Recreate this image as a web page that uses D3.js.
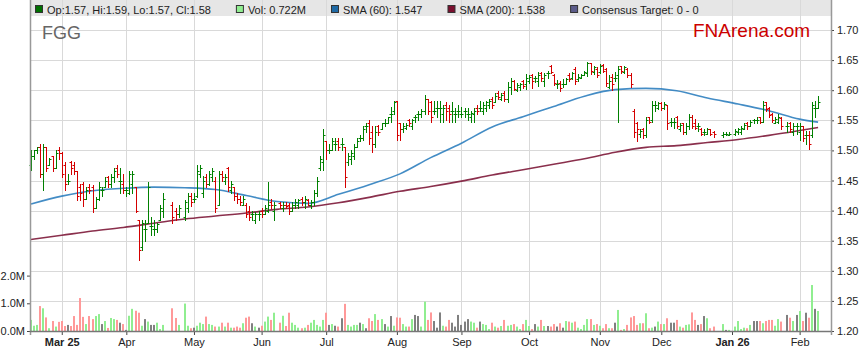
<!DOCTYPE html>
<html>
<head>
<meta charset="utf-8">
<script src="https://cdn.jsdelivr.net/npm/d3@7"></script>
<style>
  body { margin: 0; background: #fff; }
  svg { display: block; font-family: Arial, "Liberation Sans", sans-serif; }
</style>
</head>
<body>
<div id="chart"></div>
<script>
// ---- data ----
const ticker = "FGG";
const firstDay = "2025-02-17";
const lastDay = "2026-02-10";

// [open, high, low, close] per weekday, null = market holiday
const ohlc = [
  [1.475,1.50,1.468,1.49],[1.49,1.50,1.485,1.50],[1.50,1.505,1.495,1.505],[1.505,1.51,1.455,1.46],[1.46,1.51,1.435,1.505],
  [1.505,1.505,1.465,1.47],[1.475,1.487,1.475,1.485],[1.49,1.49,1.465,1.47],[1.47,1.50,1.47,1.495],[1.50,1.505,1.485,1.495],
  // 10
  [1.495,1.497,1.455,1.46],[1.475,1.48,1.435,1.445],[1.45,1.46,1.445,1.45],[1.48,1.482,1.46,1.47],[1.475,1.48,1.46,1.465],
  [1.465,1.465,1.418,1.425],[1.44,1.445,1.418,1.43],[1.445,1.447,1.408,1.42],[1.42,1.44,1.42,1.435],[1.44,1.445,1.43,1.435],
  // 20
  [1.44,1.443,1.398,1.405],[1.405,1.422,1.405,1.42],[1.42,1.448,1.418,1.44],[1.435,1.44,1.425,1.435],[1.44,1.455,1.44,1.45],
  [1.455,1.457,1.44,1.445],[1.445,1.46,1.44,1.455],[1.455,1.47,1.447,1.465],[1.47,1.475,1.455,1.46],[1.45,1.47,1.43,1.45],
  // 30
  [1.445,1.46,1.43,1.435],[1.435,1.44,1.425,1.435],[1.43,1.465,1.427,1.46],[1.445,1.465,1.43,1.46],[1.44,1.44,1.398,1.40],
  [1.385,1.385,1.318,1.335],[1.34,1.385,1.335,1.38],[1.37,1.385,1.35,1.37],[1.38,1.447,1.38,1.44],[1.375,1.39,1.36,1.375],
  // 40
  [1.37,1.385,1.36,1.37],[1.37,1.38,1.365,1.378],[1.385,1.41,1.385,1.405],[1.40,1.43,1.39,1.42],null,
  null,[1.41,1.415,1.38,1.39],[1.40,1.405,1.385,1.395],[1.395,1.41,1.39,1.405],null,
  // 50
  [1.39,1.418,1.385,1.415],[1.405,1.43,1.397,1.425],[1.425,1.43,1.407,1.415],[1.42,1.43,1.415,1.42],[1.425,1.475,1.423,1.465],
  [1.46,1.475,1.455,1.47],[1.43,1.457,1.423,1.45],[1.455,1.46,1.44,1.445],[1.445,1.465,1.443,1.46],[1.455,1.47,1.45,1.465],
  // 60
  [1.45,1.455,1.398,1.405],[1.41,1.465,1.41,1.46],[1.46,1.465,1.45,1.455],[1.45,1.46,1.445,1.455],[1.47,1.472,1.432,1.44],
  [1.435,1.45,1.43,1.445],[1.44,1.44,1.418,1.425],[1.425,1.43,1.413,1.42],[1.42,1.425,1.41,1.415],[1.41,1.425,1.41,1.42],
  // 70
  [1.41,1.413,1.39,1.395],[1.40,1.407,1.385,1.39],[1.395,1.40,1.385,1.395],[1.385,1.398,1.38,1.395],[1.395,1.40,1.385,1.395],
  [1.40,1.405,1.39,1.395],[1.395,1.41,1.395,1.405],[1.40,1.448,1.398,1.41],[1.415,1.42,1.405,1.41],[1.40,1.415,1.385,1.41],
  // 80
  null,[1.412,1.415,1.405,1.41],[1.405,1.415,1.40,1.41],[1.41,1.415,1.405,1.408],[1.41,1.412,1.395,1.40],
  [1.40,1.415,1.40,1.41],[1.41,1.42,1.405,1.415],[1.41,1.42,1.405,1.418],[1.42,1.422,1.41,1.415],[1.415,1.425,1.405,1.42],
  // 90
  [1.418,1.42,1.41,1.41],[1.41,1.418,1.405,1.415],[1.415,1.435,1.41,1.43],[1.43,1.455,1.425,1.45],[1.47,1.49,1.468,1.485],
  [1.48,1.535,1.468,1.525],[1.515,1.515,1.485,1.50],[1.50,1.51,1.495,1.50],[1.50,1.52,1.50,1.515],[1.51,1.52,1.50,1.51],
  // 100
  [1.515,1.52,1.50,1.505],[1.51,1.52,1.50,1.51],[1.505,1.505,1.44,1.455],[1.48,1.495,1.475,1.49],[1.485,1.50,1.478,1.495],
  [1.49,1.51,1.485,1.505],[1.505,1.52,1.505,1.515],[1.52,1.525,1.515,1.52],[1.52,1.54,1.518,1.535],[1.54,1.545,1.53,1.54],
  // 110
  [1.545,1.55,1.51,1.52],[1.53,1.54,1.498,1.51],[1.51,1.54,1.505,1.53],[1.54,1.542,1.525,1.53],[1.535,1.545,1.535,1.545],
  [1.545,1.552,1.54,1.545],[1.545,1.555,1.545,1.555],[1.56,1.572,1.548,1.56],[1.565,1.582,1.56,1.58],[1.582,1.582,1.518,1.525],
  // 120
  [1.545,1.545,1.518,1.535],[1.535,1.545,1.53,1.54],[1.538,1.545,1.535,1.542],[1.55,1.552,1.54,1.545],[1.54,1.552,1.535,1.55],
  [1.555,1.558,1.548,1.555],[1.56,1.565,1.55,1.56],[1.56,1.568,1.555,1.565],[1.565,1.592,1.56,1.585],[1.585,1.585,1.56,1.565],
  // 130
  [1.58,1.582,1.548,1.555],[1.565,1.582,1.56,1.565],[1.57,1.582,1.555,1.57],[1.57,1.582,1.548,1.57],[1.56,1.575,1.548,1.57],
  [1.575,1.58,1.55,1.565],[1.57,1.575,1.548,1.56],[1.565,1.58,1.548,1.565],[1.56,1.57,1.548,1.56],[1.565,1.575,1.555,1.565],
  // 140
  [1.56,1.572,1.555,1.56],[1.565,1.57,1.555,1.565],[1.56,1.57,1.55,1.56],[1.555,1.565,1.548,1.562],[1.56,1.57,1.548,1.565],
  [1.57,1.575,1.56,1.565],[1.57,1.582,1.565,1.57],[1.565,1.58,1.56,1.575],[1.57,1.582,1.565,1.58],[1.575,1.585,1.57,1.582],
  // 150
  [1.585,1.588,1.57,1.575],[1.58,1.595,1.58,1.59],[1.595,1.598,1.585,1.588],[1.585,1.595,1.583,1.592],[1.595,1.598,1.582,1.585],
  [1.585,1.613,1.58,1.605],[1.605,1.62,1.593,1.615],[1.615,1.617,1.60,1.602],[1.60,1.612,1.598,1.608],[1.605,1.612,1.60,1.61],
  // 160
  [1.615,1.617,1.603,1.607],[1.61,1.627,1.602,1.62],[1.615,1.625,1.612,1.622],[1.625,1.627,1.603,1.615],[1.62,1.623,1.613,1.62],
  [1.615,1.63,1.607,1.625],[1.628,1.63,1.615,1.62],[1.615,1.628,1.607,1.625],[1.628,1.632,1.62,1.628],[1.64,1.642,1.628,1.63],
  // 170
  [1.625,1.627,1.608,1.612],[1.61,1.617,1.603,1.61],[1.612,1.615,1.598,1.603],[1.61,1.618,1.605,1.61],[1.61,1.62,1.61,1.618],
  [1.625,1.628,1.615,1.618],[1.62,1.63,1.618,1.628],[1.635,1.638,1.61,1.615],[1.618,1.627,1.615,1.622],[1.62,1.627,1.62,1.625],
  // 180
  [1.625,1.632,1.625,1.63],[1.628,1.647,1.623,1.645],[1.645,1.645,1.627,1.632],[1.63,1.64,1.627,1.638],[1.635,1.638,1.622,1.625],
  [1.63,1.643,1.628,1.64],[1.642,1.643,1.63,1.632],[1.635,1.637,1.607,1.612],[1.605,1.625,1.603,1.615],[1.622,1.627,1.60,1.61],
  // 190
  [1.62,1.63,1.615,1.62],[1.625,1.64,1.548,1.635],[1.64,1.64,1.628,1.632],[1.63,1.64,1.628,1.638],[1.635,1.637,1.622,1.625],
  [1.625,1.628,1.605,1.61],[1.565,1.568,1.522,1.53],[1.545,1.548,1.515,1.535],[1.527,1.535,1.522,1.533],[1.535,1.537,1.52,1.525],
  // 200
  [1.525,1.555,1.522,1.55],[1.555,1.555,1.545,1.548],[1.55,1.582,1.548,1.575],[1.575,1.582,1.565,1.575],[1.57,1.58,1.568,1.578],
  [1.578,1.58,1.567,1.57],[1.57,1.58,1.568,1.577],[1.575,1.575,1.535,1.545],[1.548,1.553,1.54,1.548],[1.548,1.553,1.537,1.548],
  // 210
  [1.555,1.557,1.537,1.54],[1.535,1.545,1.532,1.542],[1.545,1.545,1.527,1.53],[1.53,1.545,1.528,1.54],[1.54,1.56,1.535,1.555],
  [1.555,1.558,1.537,1.54],[1.545,1.552,1.535,1.538],[1.54,1.545,1.532,1.54],[1.535,1.537,1.525,1.528],[1.53,1.535,1.525,1.53],
  // 220
  [1.528,1.537,1.527,1.535],[1.535,1.535,1.525,1.527],[1.53,1.532,1.523,1.527],null,null,
  [1.525,1.53,1.523,1.527],[1.527,1.53,1.525,1.527],[1.525,1.53,1.525,1.528],null,[1.528,1.535,1.525,1.532],
  // 230
  [1.53,1.537,1.528,1.535],[1.53,1.54,1.527,1.538],[1.535,1.545,1.535,1.542],[1.545,1.548,1.535,1.54],[1.54,1.55,1.54,1.548],
  [1.55,1.552,1.545,1.55],[1.55,1.555,1.545,1.55],[1.555,1.555,1.545,1.548],[1.548,1.582,1.548,1.575],[1.58,1.58,1.565,1.568],
  // 240
  [1.57,1.572,1.555,1.558],[1.56,1.562,1.548,1.55],[1.545,1.555,1.545,1.552],[1.548,1.56,1.545,1.555],[1.553,1.555,1.535,1.54],
  null,[1.54,1.548,1.53,1.54],[1.545,1.547,1.53,1.535],[1.53,1.545,1.525,1.54],[1.54,1.545,1.528,1.54],
  // 250
  [1.53,1.545,1.518,1.54],[1.54,1.54,1.515,1.52],[1.525,1.532,1.51,1.525],[1.525,1.532,1.502,1.51],[1.525,1.58,1.522,1.575],
  [1.57,1.582,1.555,1.57],[1.57,1.59,1.57,1.58]
];

// volume in millions, same weekday order
const volume = [
  .40,.19,.22,.90,.82,.49,.10,.36,.16,.33,
  .36,.18,.22,.18,.54,.22,1.19,.51,.25,.54,
  .43,.54,.61,.25,.36,.11,.47,.43,.40,.30,
  .25,.04,.55,.80,.73,.66,.19,.43,.34,.22,
  .22,.30,.07,.22,null,null,.82,.47,.22,null,
  .99,.19,.10,.12,.19,.30,.25,.52,.25,.22,
  .16,.16,.30,.16,.30,.12,.12,.16,.12,.28,
  .48,.52,.28,.16,.12,.19,.34,.52,.40,.66,
  null,.30,.55,.18,.66,.30,.22,.12,.10,.12,
  .22,.30,.40,.22,.16,.40,.66,.22,.25,.19,
  .16,.46,.98,.22,.16,.22,.22,.30,.25,.10,
  .46,.36,.61,.40,.43,.25,.16,.54,.19,.49,
  .48,.25,.16,.16,.43,.58,.54,.16,1.06,.40,
  .67,.36,.12,.67,.19,.16,.40,.30,.16,.58,
  .22,.34,.43,.34,.30,.12,.34,.25,.22,.07,
  .30,.16,.12,.18,.40,.19,.22,.25,.16,.07,
  .25,.40,.18,.07,.25,.16,.40,.18,.18,.16,
  .25,.16,.28,.12,.36,.34,.30,.34,.12,.07,
  .22,.43,.43,.22,.25,.19,.10,.25,.10,.10,
  .30,.76,.04,.07,.22,.49,.54,.22,.28,.28,
  .64,.10,.12,.16,.34,.25,.25,.46,.30,.30,
  .40,.16,.12,.22,.24,.67,.40,.22,.25,.54,
  .46,.10,.16,null,null,.25,.04,.04,null,.16,
  .36,.07,.12,.10,.22,.36,.36,.36,.28,.36,
  .40,.40,.19,.43,.34,null,.58,.48,.36,.58,
  .72,.36,.66,.48,1.66,.80,.722
];

// moving averages read at these bar positions
const smaAt  = [0,10,20,30,40,50,60,70,80,90,100,110,120,130,140,150,160,170,180,190,200,210,220,230,240,250,256];
const sma60  = [1.411,1.424,1.433,1.437,1.439,1.438,1.435,1.425,1.415,1.412,1.427,1.443,1.461,1.488,1.512,1.539,1.556,1.573,1.590,1.601,1.603,1.599,1.587,1.577,1.566,1.552,1.547];
const sma200 = [1.352,1.359,1.366,1.372,1.379,1.386,1.391,1.396,1.402,1.406,1.413,1.422,1.432,1.440,1.449,1.459,1.468,1.477,1.486,1.497,1.505,1.508,1.513,1.518,1.525,1.533,1.538];

const priceTicks = [1.20,1.25,1.30,1.35,1.40,1.45,1.50,1.55,1.60,1.65,1.70];
const volTicks = [0,1,2];
const monthLabels = ["Mar 25","Apr","May","Jun","Jul","Aug","Sep","Oct","Nov","Dec","Jan 26","Feb"];

// ---- setup ----
const W = 859, H = 363;
const plotL = 30, plotR = 831, plotT = 30, plotB = 331;

const svg = d3.select("#chart").append("svg")
  .attr("width", W).attr("height", H);

const parse = d3.utcParse("%Y-%m-%d");
const days = d3.utcDay.range(parse(firstDay), d3.utcDay.offset(parse(lastDay), 1))
  .filter(d => d.getUTCDay() % 6 !== 0);

const x = d3.scaleLinear().domain([-0.33, 260.2]).range([plotL, plotR]);
const y = d3.scaleLinear().domain([1.20, 1.70]).range([plotB, plotT]);
const yv = d3.scaleLinear().domain([0, 2]).range([plotB, 275.6]);

// first weekday of every month
const monthIdx = d3.range(1, days.length).filter(i => days[i].getUTCMonth() !== days[i - 1].getUTCMonth());

const crisp = v => Math.round(v) + 0.5;

// legend band
svg.append("rect")
  .attr("x", plotL).attr("y", 0)
  .attr("width", plotR - plotL).attr("height", 16)
  .attr("fill", "#e6e6e6");

// gridlines
svg.append("g").selectAll("line")
  .data(priceTicks).enter().append("line")
  .attr("x1", plotL).attr("x2", plotR)
  .attr("y1", d => crisp(y(d))).attr("y2", d => crisp(y(d)))
  .attr("stroke", "#d9d9d9");

svg.append("g").selectAll("line")
  .data(monthIdx).enter().append("line")
  .attr("x1", d => crisp(x(d))).attr("x2", d => crisp(x(d)))
  .attr("y1", 0).attr("y2", plotB)
  .attr("stroke", "#d9d9d9");

// ticker + watermark
svg.append("text")
  .attr("x", 42).attr("y", 39)
  .attr("font-size", 18).attr("fill", "#666")
  .text(ticker);

svg.append("text")
  .attr("x", 693).attr("y", 37)
  .attr("font-size", 19).attr("fill", "#cc0000")
  .text("FNArena.com");

// volume bars
const bars = ohlc.map((d, i) => d ? { i, o: d[0], h: d[1], l: d[2], c: d[3], v: volume[i] } : null).filter(d => d);

const volColor = d => d.c > d.o ? "#90ee90" : d.c < d.o ? "#ff9999" : "#808080";

svg.append("g").selectAll("rect")
  .data(bars).enter().append("rect")
  .attr("x", d => Math.round(x(d.i)) - 1)
  .attr("y", d => yv(d.v))
  .attr("width", 2)
  .attr("height", d => plotB - yv(d.v))
  .attr("fill", volColor);

// moving averages
const smaLine = vals => d3.line()
  .x((d, k) => x(smaAt[k]))
  .y(d => y(d))
  .curve(d3.curveMonotoneX)(vals);

svg.append("path")
  .attr("d", smaLine(sma200))
  .attr("fill", "none").attr("stroke", "#7d1838").attr("stroke-width", 1.6).attr("stroke-opacity", 0.9);

svg.append("path")
  .attr("d", smaLine(sma60))
  .attr("fill", "none").attr("stroke", "#2f7fbf").attr("stroke-width", 1.6).attr("stroke-opacity", 0.9);

// OHLC bars
svg.append("g").selectAll("path")
  .data(bars).enter().append("path")
  .attr("d", d => {
    const xi = crisp(x(d.i));
    const yo = crisp(y(d.o)), yc = crisp(y(d.c));
    return `M${xi},${Math.round(y(d.h))}V${Math.round(y(d.l)) + 1}` +
           `M${xi - 2},${yo}H${xi}M${xi},${yc}H${xi + 2}`;
  })
  .attr("fill", "none")
  .attr("stroke", d => d.c >= d.o ? "#008000" : "#d40000")
  .attr("stroke-width", 1);

// axes
const axisFont = g => g.selectAll("text").attr("font-size", 11).attr("fill", "#222")
  .attr("font-family", 'Arial, "Liberation Sans", sans-serif');

const gRight = svg.append("g").attr("transform", `translate(${plotR},0)`)
  .call(d3.axisRight(y).tickValues(priceTicks).tickFormat(d3.format(".2f")).tickSize(3).tickPadding(3))
  .call(axisFont);
gRight.select(".domain").remove();
gRight.selectAll("line").attr("stroke", "#444");

const gLeft = svg.append("g").attr("transform", `translate(${plotL},0)`)
  .call(d3.axisLeft(yv).tickValues(volTicks).tickFormat(d => d.toFixed(1) + "M").tickSize(3).tickPadding(2))
  .call(axisFont);
gLeft.select(".domain").remove();
gLeft.selectAll("line").attr("stroke", "#444");

const gBottom = svg.append("g").attr("transform", `translate(0,${plotB})`)
  .call(d3.axisBottom(x).tickValues(monthIdx).tickFormat((d, k) => monthLabels[k]).tickSize(4).tickPadding(3))
  .call(axisFont);
gBottom.select(".domain").remove();
gBottom.selectAll("line").attr("stroke", "#444");
gBottom.selectAll("text").attr("font-weight", (d, k) => /\d/.test(monthLabels[k]) ? "bold" : null);

// frame lines
svg.append("line").attr("x1", plotL + 0.5).attr("x2", plotL + 0.5).attr("y1", 0).attr("y2", plotB + 4)
  .attr("stroke", "#999").attr("stroke-width", 1.5);
svg.append("line").attr("x1", plotR + 0.5).attr("x2", plotR + 0.5).attr("y1", 0).attr("y2", plotB + 4)
  .attr("stroke", "#999").attr("stroke-width", 1.5);
svg.append("line").attr("x1", plotL).attr("x2", plotR).attr("y1", plotB + 0.5).attr("y2", plotB + 0.5)
  .attr("stroke", "#777").attr("stroke-width", 1.5);

// legend
const last = bars[bars.length - 1];
const f2 = d3.format(".2f"), f3 = d3.format(".3f");
const legendItems = [
  { label: `Op:${f2(last.o)}, Hi:${f2(last.h)}, Lo:${f2(last.l)}, Cl:${f2(last.c)}`, color: "#007000" },
  { label: `Vol: ${f3(last.v)}M`, color: "#90ee90" },
  { label: `SMA (60): ${f3(sma60[sma60.length - 1])}`, color: "#1f6aa5" },
  { label: `SMA (200): ${f3(sma200[sma200.length - 1])}`, color: "#7a0f2e" },
  { label: "Consensus Target: 0 - 0", color: "#5c5c8a" }
];

const legend = svg.append("g");
let lx = 35;
legendItems.forEach(item => {
  const g = legend.append("g").attr("transform", `translate(${lx},0)`);
  g.append("rect").attr("x", 0.5).attr("y", 5.5).attr("width", 7).attr("height", 7)
    .attr("fill", item.color).attr("stroke", "#333");
  const t = g.append("text").attr("x", 12).attr("y", 14)
    .attr("font-size", 11).attr("fill", "#222").text(item.label);
  lx += 12 + t.node().getComputedTextLength() + 25;
});
</script>
</body>
</html>
